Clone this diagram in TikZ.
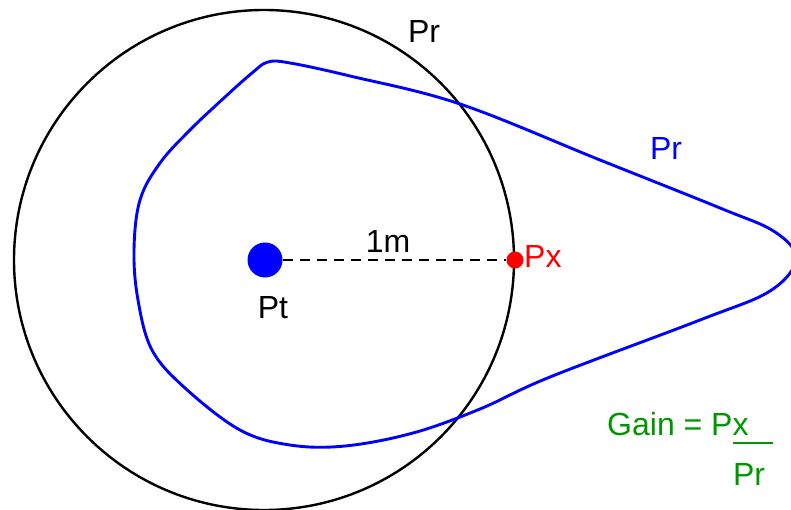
\documentclass[tikz,border=0pt]{standalone}
\usepackage{fontspec}
\setmainfont{Liberation Sans}
\definecolor{gaingreen}{RGB}{0,150,0}
\begin{document}
\begin{tikzpicture}[x=1pt,y=-1pt,
  lbl/.style={anchor=base,inner sep=0pt,font=\fontsize{32}{38}\selectfont},
  dot/.style={circle,inner sep=0pt}]
\useasboundingbox (0,0) rectangle (791,510);
% receive circle
\node[circle,draw=black,line width=2.4pt,inner sep=0pt,minimum size=500pt] (ring) at (264,260) {};
% radiation pattern
\draw[blue,line width=2.9pt] plot[smooth cycle,tension=0.6] coordinates {
 (225,97) (252,73) (268,62) (290,63) (350,76) (460,104) (600,160) (720,208)
 (775,232) (796,259) (770,291) (700,320) (550,377)
 (480,409) (413,433) (345,446) (290,445) (240,430) (185,388) (152,350)
 (138,300) (134,250) (140,200) (160,163) (190,130)};
% points
\node[dot,fill=blue,minimum size=35pt] (pt) at (265,260) {};
\node[dot,fill=red,minimum size=17pt] (px) at (515,260) {};
\draw[line width=2.7pt,dash pattern=on 10pt off 7pt] (pt) -- (px);
% labels
\node[lbl] (prtop) at (424,43) {Pr};
\node[lbl,text=blue] (prblue) at (666,160) {Pr};
\node[lbl] (onem) at (388,252) {1m};
\node[lbl] (ptl) at (273,318) {Pt};
\node[lbl,anchor=base west,text=red] (pxl) at (524,268) {Px};
\node[lbl,anchor=base west,text=gaingreen] (gain) at (607,435) {Gain = Px};
\node[lbl,text=gaingreen] (prden) at (749,485) {Pr};
\coordinate (barl) at (733,443);
\coordinate (barr) at (773,443);
\draw[gaingreen,line width=1.3pt] (barl) -- (barr);
\end{tikzpicture}
\end{document}
